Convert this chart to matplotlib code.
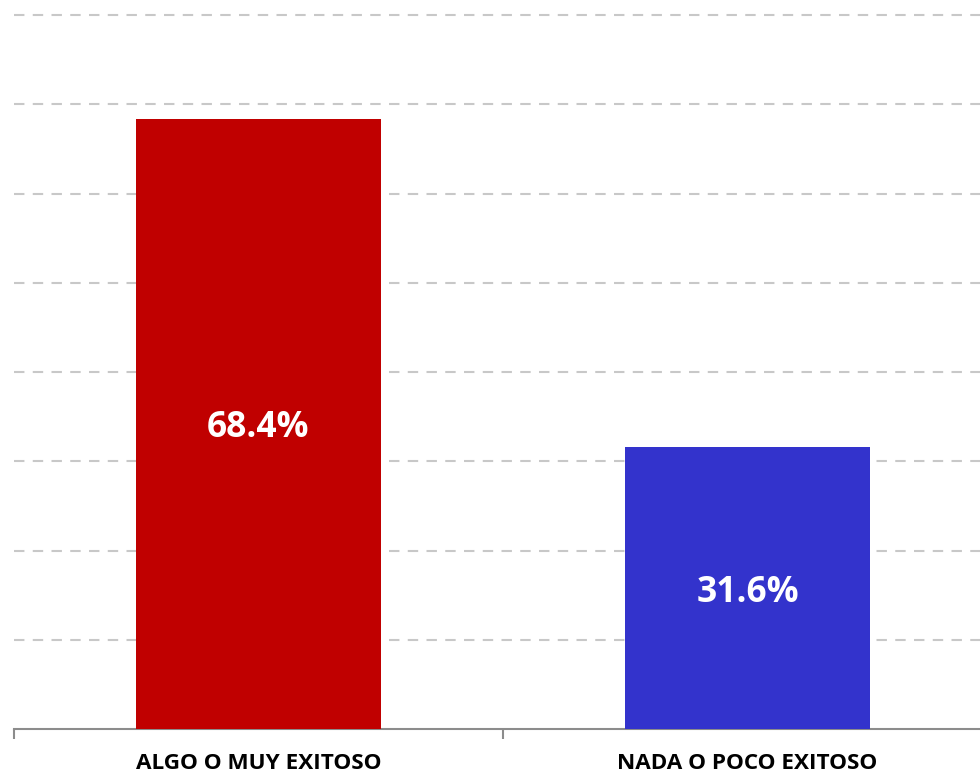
import matplotlib
matplotlib.use("Agg")
import matplotlib.pyplot as plt
import numpy as np

# ── Data ─────────────────────────────────────────────────────────────
categories = ["ALGO O MUY EXITOSO", "NADA O POCO EXITOSO"]
values = [68.4, 31.6]
value_labels = ["68.4%", "31.6%"]
bar_colors = ["#C00000", "#3333CC"]
grid_levels = [10, 20, 30, 40, 50, 60, 70, 80]

W, H = 980, 775
fig = plt.figure(figsize=(W / 100, H / 100), dpi=100)
fig.patch.set_facecolor("white")

# axes spans beyond right edge (chart is cropped in the reference)
ax_left, ax_right = 14, 992
ax_bottom, ax_top = 729, 0
ax = fig.add_axes([ax_left / W, (H - ax_bottom) / H,
                   (ax_right - ax_left) / W, (ax_bottom - ax_top) / H])
ax.set_facecolor("white")

x = np.arange(len(categories))
ax.bar(x, values, width=0.5, color=bar_colors, zorder=3)
ax.set_xlim(-0.5, len(categories) - 0.5)
ax.set_ylim(0, 81.7)

for lvl in grid_levels:
    ax.axhline(lvl, color="#c8c8c8", linewidth=1.5, dashes=(5, 4), zorder=1)

for xi, v, lab in zip(x, values, value_labels):
    ax.text(xi, v / 2, lab, ha="center", va="center_baseline", color="white",
            fontsize=25.5, fontweight="bold", family="Open Sans", zorder=4)

for spine in ["top", "right", "left"]:
    ax.spines[spine].set_visible(False)
ax.spines["bottom"].set_color("#8c8c8c")
ax.spines["bottom"].set_linewidth(1.5)

ax.set_yticks([])
ax.set_xticks([-0.5, 0.5, 1.5], minor=True)
ax.tick_params(axis="x", which="minor", length=7, width=1.5, color="#8c8c8c")
ax.set_xticks(x)
ax.set_xticklabels(categories, fontsize=16.2, fontweight="bold",
                   family="Open Sans")
ax.tick_params(axis="x", which="major", length=0, pad=17.5)

fig.savefig("out.png", dpi=100, facecolor="white")
